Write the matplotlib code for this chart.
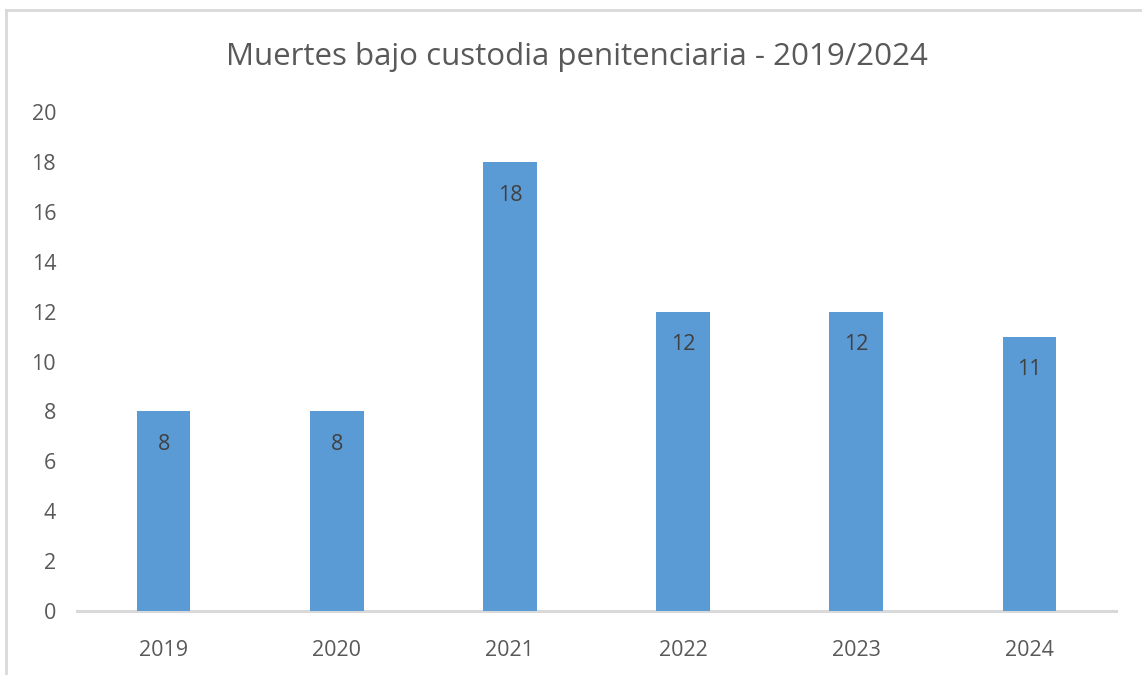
import matplotlib
matplotlib.use("Agg")
import matplotlib.pyplot as plt
from matplotlib.lines import Line2D

years = ["2019", "2020", "2021", "2022", "2023", "2024"]
deaths = [8, 8, 18, 12, 12, 11]
yticks = [0, 2, 4, 6, 8, 10, 12, 14, 16, 18, 20]
title = "Muertes bajo custodia penitenciaria - 2019/2024"

plt.rcParams['font.family'] = ['Open Sans', 'DejaVu Sans']

W, H = 1142, 675
fig = plt.figure(figsize=(W/100, H/100), dpi=100)
ax = fig.add_axes([77/W, 1-611/H, (1116-77)/W, (611-112)/H])

x = list(range(len(years)))
ax.bar(x, deaths, width=0.31, color="#5B9BD5", zorder=3)
ax.set_xlim(-0.5, len(years)-0.5)
ax.set_ylim(0, 20)
ax.set_yticks(yticks)
ax.set_yticklabels([str(t) for t in yticks])
ax.set_xticks(x)
ax.set_xticklabels(years)
ax.tick_params(axis='both', length=0, colors="#595959", labelsize=15.5)
ax.tick_params(axis='y', pad=15)
ax.tick_params(axis='x', pad=21)
for s in ["top", "right", "left"]:
    ax.spines[s].set_visible(False)
ax.spines["bottom"].set_color("#d9d9d9")
ax.spines["bottom"].set_linewidth(2.2)

for xi, v in zip(x, deaths):
    ax.annotate(str(v), (xi, v), xytext=(0, -24), textcoords="offset points",
                ha="center", va="center", fontsize=15.5, color="#404040", zorder=4)

fig.text(577/W, 1-57/H, title, ha="center", va="center", fontsize=22.5, color="#595959")

# outer chart border (left and top visible)
fig.add_artist(Line2D([6/W, 6/W], [0, 1-10/H], color="#d9d9d9", lw=2, transform=fig.transFigure))
fig.add_artist(Line2D([6/W, 1], [1-10/H, 1-10/H], color="#d9d9d9", lw=2, transform=fig.transFigure))

fig.savefig("out.png", dpi=100, facecolor="white")
